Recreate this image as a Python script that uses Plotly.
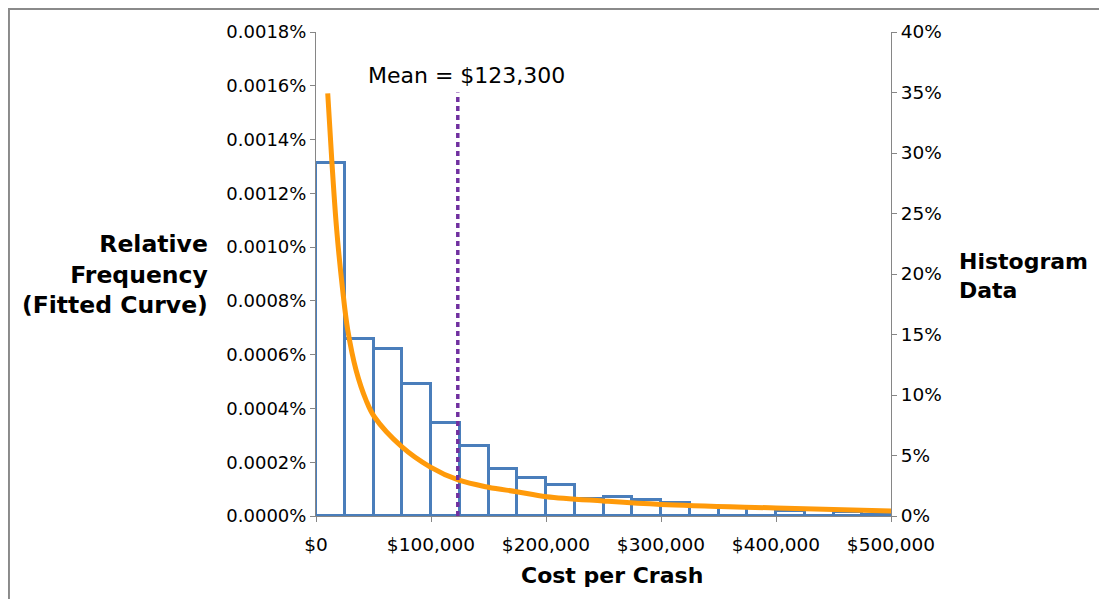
import plotly.graph_objects as go

# ---- data ----
bin_centers = [12500, 37500, 62500, 87500, 112500, 137500, 162500, 187500, 212500, 237500,
               262500, 287500, 312500, 337500, 362500, 387500, 412500, 437500, 462500, 487500]
hist_pct = [29.2, 14.6, 13.8, 10.9, 7.7, 5.8, 3.9, 3.1, 2.6, 1.4,
            1.6, 1.3, 1.05, 0.75, 0.7, 0.65, 0.4, 0.5, 0.35, 0.1]

curve_x = [10200, 13900, 18000, 23200, 27600, 34800, 43500, 50700, 74500, 99100,
           123700, 149800, 174500, 200600, 249600, 300000, 400000, 500000]
curve_y = [0.001572, 0.001311, 0.001064, 0.000840, 0.000692, 0.000543, 0.000431, 0.000369,
           0.000258, 0.000183, 0.000134, 0.000107, 0.0000904, 0.0000718, 0.0000558,
           0.0000428, 0.0000298, 0.0000186]

mean_value = 123300
mean_label = "Mean = $123,300"

x_ticks = [0, 100000, 200000, 300000, 400000, 500000]
x_ticktext = ["$0", "$100,000", "$200,000", "$300,000", "$400,000", "$500,000"]

FONT = "DejaVu Sans, Liberation Sans, Arial, sans-serif"
AXIS_COLOR = "#868686"

fig = go.Figure()

fig.add_trace(go.Bar(
    x=bin_centers, y=hist_pct, width=25000,
    marker=dict(color="rgba(255,255,255,0)", line=dict(color="#4A7EBB", width=3)),
    yaxis="y", showlegend=False,
))

fig.add_trace(go.Scatter(
    x=curve_x, y=curve_y, mode="lines", line=dict(color="#FF9A0A", width=5, shape="spline"),
    yaxis="y2", showlegend=False,
))

fig.update_layout(
    width=1099, height=591,
    margin=dict(l=308, r=216, t=24, b=83),
    plot_bgcolor="white", paper_bgcolor="white",
    font=dict(family=FONT, color="black"),
    bargap=0,
    xaxis=dict(
        range=[0, 500000], tickvals=x_ticks, ticktext=x_ticktext,
        showgrid=False, zeroline=False, showline=True, linecolor=AXIS_COLOR, linewidth=1,
        ticks="outside", ticklen=5, tickcolor=AXIS_COLOR, ticklabelstandoff=7,
        tickfont=dict(size=18.5, family=FONT),
    ),
    yaxis=dict(
        side="right", range=[0, 40], dtick=5, ticksuffix="%",
        showgrid=False, zeroline=False, showline=True, linecolor=AXIS_COLOR, linewidth=1,
        ticks="outside", ticklen=5, tickcolor=AXIS_COLOR,
        tickfont=dict(size=18.5, family=FONT),
    ),
    yaxis2=dict(
        side="left", overlaying="y", range=[0, 0.0018], dtick=0.0002, tickformat=".4f",
        ticksuffix="%",
        showgrid=False, zeroline=False, showline=True, linecolor=AXIS_COLOR, linewidth=1,
        ticks="outside", ticklen=5, tickcolor=AXIS_COLOR,
        tickfont=dict(size=18, family=FONT),
    ),
)

# mean line
fig.add_shape(type="line", xref="x", yref="paper", x0=mean_value, x1=mean_value, y0=0, y1=0.875,
              line=dict(color="#7030A0", width=3.5, dash="5px,4px"))

# outer frame (top and left edges)
fig.add_shape(type="path", xref="paper", yref="paper",
              path="M -0.534,-0.2 L -0.534,1.0475 L 1.4,1.0475",
              line=dict(color="#8a8a8a", width=2))

fig.add_annotation(x=mean_value, y=0.911, xref="x", yref="paper", text=mean_label,
                   showarrow=False, xshift=9, yanchor="middle",
                   font=dict(size=22, family=FONT, color="black"))

fig.add_annotation(x=-0.184, y=0.5, xref="paper", yref="paper", xanchor="right", yanchor="middle",
                   align="right",
                   text="<b>Relative<br>Frequency<br>(Fitted Curve)</b>", showarrow=False,
                   font=dict(size=23.5, family=FONT, color="black"))

fig.add_annotation(x=1.114, y=0.496, xref="paper", yref="paper", xanchor="left", yanchor="middle",
                   align="left",
                   text="<b>Histogram<br>Data</b>", showarrow=False,
                   font=dict(size=22, family=FONT, color="black"))

fig.add_annotation(x=0.515, y=-0.122, xref="paper", yref="paper", xanchor="center",
                   yanchor="middle",
                   text="<b>Cost per Crash</b>", showarrow=False,
                   font=dict(size=22, family=FONT, color="black"))

fig.write_html("out.html")
